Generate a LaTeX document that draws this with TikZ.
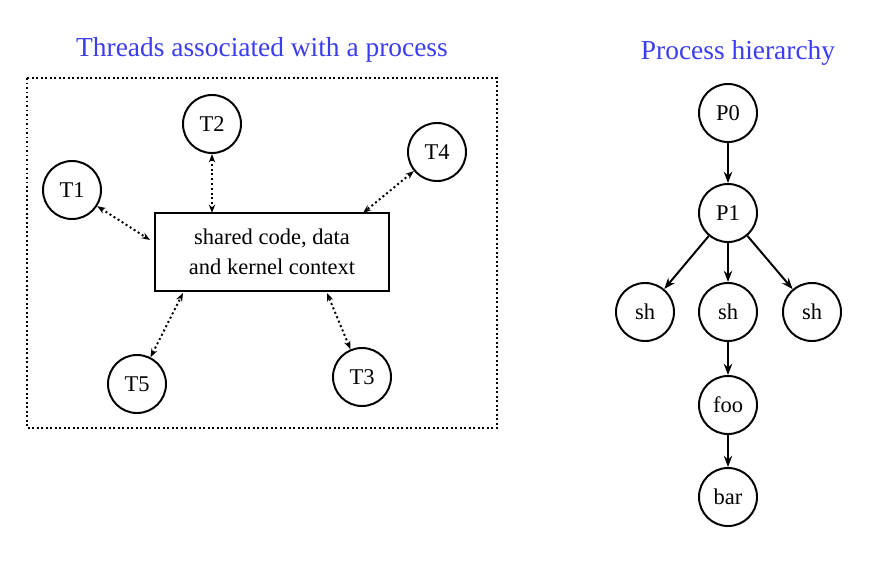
\documentclass[tikz,border=0pt]{standalone}
\usepackage{fontspec}
\setmainfont{Liberation Serif}
\usetikzlibrary{arrows.meta}
\definecolor{titleblue}{RGB}{60,60,240}
\tikzset{
  proc/.style={draw, line width=1.4pt, circle, minimum size=1.45cm, inner sep=0pt, font=\fontsize{16}{18}\selectfont},
  share/.style={line width=1.4pt, dotted, {Stealth[length=6pt]}-{Stealth[length=6pt]}},
  tree/.style={line width=1.4pt, -{Stealth[length=8pt]}},
  title/.style={text=titleblue, font=\fontsize{19.5}{22}\selectfont}
}
\begin{document}
\begin{tikzpicture}[x=0.025cm, y=-0.025cm]
    \useasboundingbox (0,0) rectangle (874,566);
    % threads
    \node[title] (ttl) at (262,50) {Threads associated with a process};
    \draw [line width=1.2pt, dotted] (27,78) rectangle (497,428);
    \node [draw, line width=1.4pt, minimum width=5.85cm, minimum height=1.95cm, align=center,
      font=\fontsize{16}{21}\selectfont] (ctx) at (272,252) {shared code, data\\and kernel context};
    \foreach \n/\x/\y in {1/72/190, 2/212/124, 3/362/377, 4/437/152, 5/137/384} {
      \node [proc] (T\n) at (\x,\y) {T\n};
    }
    \coordinate (c1) at (150,240);
    \coordinate (c2) at (212,213);
    \coordinate (c3) at (327,293);
    \coordinate (c4) at (363,213);
    \coordinate (c5) at (183,293);
    \foreach \n in {1, ..., 5}
      \draw [share] (T\n) -- (c\n);
    % hierarchy
    \node[title] (htl) at (738,53) {Process hierarchy};
    \node [proc] (P0) at (728,113) {P0};
    \node [proc] (P1) at (728,213) {P1};
    \node [proc] (shl) at (645,312) {sh};
    \node [proc] (shm) at (728,312) {sh};
    \node [proc] (shr) at (812,312) {sh};
    \node [proc] (foo) at (728,405) {foo};
    \node [proc] (bar) at (728,497) {bar};
    \draw [tree] (P0) -- (P1);
    \draw [tree] (P1) -- (shl);
    \draw [tree] (P1) -- (shm);
    \draw [tree] (P1) -- (shr);
    \draw [tree] (shm) -- (foo);
    \draw [tree] (foo) -- (bar);
\end{tikzpicture}
\end{document}
